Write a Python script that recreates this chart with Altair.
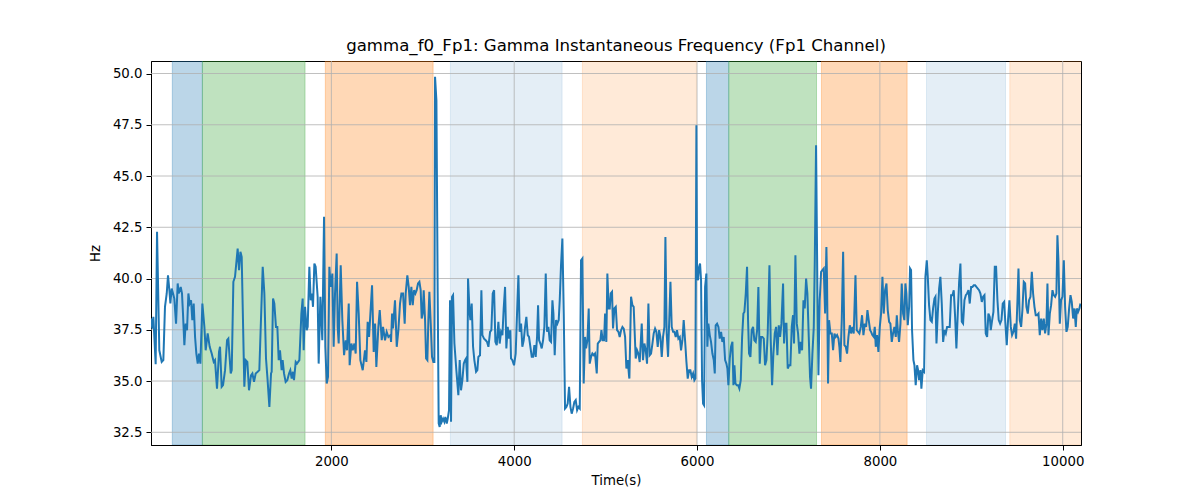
import altair as alt
import pandas as pd

# ---- line data: (time in s, gamma instantaneous frequency in Hz) ----
seg_a = [(27,38.05),(42,37.56),(53,38.13),(78,35.82),(93,42.28),(118,36.50),(144,35.93),(162,36.02),(180,38.62),(199,39.27),(213,40.16),(228,39.43),(239,38.78),(253,39.51),(268,39.27),(282,39.02),(301,37.80),(319,39.76),(330,39.27),(352,39.59),(366,39.27),(377,38.29),(392,36.75),(406,37.80),(421,37.48),(436,39.27),(450,38.78),(465,38.94),(479,37.97),(494,38.78),(509,37.15),(523,36.34),(538,35.85),(552,36.34),(567,35.85),(589,38.78),(611,37.64),(625,36.50),(647,37.32),(669,36.67),(691,36.34),(713,35.93),(727,36.02),(749,34.63),(771,36.42),(782,36.67),(800,34.72),(815,34.80),(837,35.53),(859,36.99),(873,37.07),(899,35.37),(910,35.53),(928,39.84),(946,40.08),(975,41.46),(990,40.41),(1005,41.30),(1019,41.06),(1048,34.72),(1063,36.02),(1081,35.93),(1099,34.55),(1121,35.28),(1136,35.37),(1154,34.96),(1172,35.37),(1194,35.45),(1212,35.53),(1249,40.57),(1267,39.27),(1285,36.10),(1300,35.20),(1322,33.74)]

seg_b = [(1340,35.37),(1347,35.45),(1362,39.02),(1376,38.78),(1394,37.64),(1409,37.64),(1424,36.02),(1438,36.50),(1456,35.53),(1467,36.02),(1482,35.37),(1500,34.96),(1518,35.04),(1537,35.37),(1551,35.53),(1566,35.12),(1580,35.45),(1591,35.04),(1610,35.93),(1624,35.85),(1650,36.02),(1672,38.29),(1686,39.02),(1697,36.50),(1712,38.62),(1730,37.48),(1741,37.64),(1759,40.57),(1774,38.94),(1788,39.27),(1799,38.62),(1814,40.73),(1828,40.57),(1850,39.11),(1861,35.85),(1880,39.11),(1901,36.99),(1920,43.01),(1934,36.67),(1949,34.88),(1963,35.20),(1978,40.57),(1993,39.59),(2011,40.24),(2025,36.67),(2040,39.27),(2058,41.22),(2069,37.64),(2080,36.83),(2102,40.65),(2120,37.97),(2139,36.26),(2157,36.99),(2171,36.50),(2190,38.78),(2200,35.77),(2219,36.83),(2233,36.50),(2252,36.83),(2266,36.34),(2281,39.84),(2299,38.29),(2317,36.02),(2343,35.53),(2368,36.50),(2383,35.93),(2397,37.89),(2412,37.15),(2445,39.67),(2463,36.42),(2478,37.80),(2492,35.69),(2514,37.64),(2529,38.46),(2551,36.99),(2565,37.64),(2587,36.99),(2605,37.40),(2624,37.15),(2646,37.24)]

seg_c = [(2653,36.91),(2664,38.29),(2674,37.56),(2696,38.94),(2715,36.67),(2733,37.48),(2751,38.78),(2766,39.27),(2784,39.27),(2802,37.80),(2813,39.27),(2831,40.16),(2846,39.59),(2860,38.70),(2875,39.59),(2890,38.70),(2904,39.43),(2919,39.27),(2933,39.43),(2948,39.76),(2963,39.84),(2977,39.43),(2988,38.05),(2999,38.29),(3010,39.43),(3025,37.97),(3036,36.10),(3050,36.02),(3061,37.97),(3072,39.35),(3087,37.80),(3101,36.18),(3116,35.93),(3127,35.93),(3134,49.84),(3149,48.70),(3163,39.27),(3174,32.93),(3185,32.76),(3196,33.33),(3207,33.01),(3222,33.17),(3236,33.01),(3247,33.25),(3262,32.93),(3273,33.17),(3287,33.58),(3298,38.94),(3309,33.01),(3320,39.11),(3331,39.19),(3346,36.83),(3367,35.53),(3389,34.31),(3404,36.02),(3418,34.55),(3433,35.04),(3448,35.85),(3462,36.02),(3473,36.10),(3488,34.96),(3495,40.00),(3513,38.29),(3521,37.97),(3535,38.78),(3550,36.67),(3564,36.02),(3583,35.45),(3597,35.53),(3608,36.18),(3626,36.26),(3641,39.43),(3652,37.24),(3670,37.07),(3688,36.99),(3703,36.91),(3718,36.67),(3736,37.40),(3750,37.48),(3765,39.27),(3780,39.43),(3794,36.91),(3809,36.75),(3827,37.89),(3841,36.83),(3856,37.40),(3871,37.24),(3885,38.54),(3900,39.59),(3914,36.59),(3929,37.64),(3944,37.07),(3958,37.48)]

seg_d = [(3965,36.10),(3980,36.02),(3998,35.77),(4016,36.34),(4031,38.29),(4046,40.16),(4060,37.40),(4075,37.80),(4089,36.67),(4104,36.99),(4119,37.64),(4133,38.13),(4148,37.24),(4162,37.15),(4177,36.67),(4192,36.18),(4206,36.18),(4221,36.75),(4235,36.18),(4250,37.15),(4261,38.70),(4272,36.99),(4286,36.83),(4301,36.59),(4316,36.99),(4330,37.64),(4345,40.24),(4359,37.40),(4374,37.64),(4388,36.99),(4403,36.91),(4418,38.94),(4429,38.29),(4443,36.26),(4458,37.97),(4472,37.80),(4487,37.97),(4498,38.94),(4512,40.65),(4527,41.95),(4542,38.29),(4556,33.66),(4571,33.74),(4585,33.90),(4600,34.72),(4615,33.74),(4629,33.41),(4644,33.66),(4658,33.98),(4673,34.07),(4688,33.58),(4702,33.74),(4717,33.66),(4731,40.89),(4746,40.98),(4760,34.88),(4775,37.15),(4786,36.59),(4801,36.99),(4815,38.54),(4826,35.85),(4841,36.18),(4855,36.34),(4870,36.26),(4884,36.34),(4903,35.37),(4914,36.83),(4928,36.91),(4943,36.99),(4954,37.48),(4968,36.99),(4983,36.99),(4994,38.29),(5008,36.91),(5019,40.24),(5034,38.54),(5045,38.54),(5056,39.27),(5070,39.35),(5081,37.56),(5096,38.54),(5111,38.62),(5125,37.48),(5140,37.40),(5154,37.15),(5169,37.48),(5184,37.64),(5198,37.56),(5213,37.15),(5227,35.61),(5242,36.02),(5257,35.20)]

seg_e = [(5260,35.12),(5278,39.11),(5293,38.70),(5307,38.62),(5329,36.10),(5344,36.50),(5358,36.34),(5373,35.93),(5395,37.80),(5409,36.02),(5424,36.83),(5439,36.50),(5453,35.85),(5468,38.78),(5482,36.26),(5497,36.34),(5512,36.83),(5526,37.32),(5541,37.56),(5555,37.40),(5570,36.67),(5585,37.48),(5599,37.15),(5614,36.18),(5628,37.15),(5643,37.64),(5654,42.03),(5668,37.32),(5683,36.18),(5698,38.29),(5709,39.84),(5723,37.64),(5738,37.40),(5752,37.40),(5767,37.15),(5781,37.48),(5796,37.07),(5811,37.15),(5825,36.50),(5840,36.99),(5854,37.97),(5869,36.99),(5884,35.93),(5898,35.12),(5913,35.53),(5927,35.53),(5942,35.20),(5957,35.37),(5971,35.04),(5982,35.12),(5993,47.48),(6000,40.08),(6011,39.92),(6022,40.57),(6033,40.73),(6044,39.92),(6055,35.04),(6066,33.90),(6077,33.82),(6088,39.59),(6102,40.24),(6113,36.67),(6124,37.80),(6139,37.24),(6153,36.91),(6168,36.34),(6183,36.02),(6194,35.37),(6204,37.72),(6219,37.80),(6234,37.64),(6248,37.07),(6263,37.40),(6277,36.91),(6292,37.15),(6307,36.02),(6321,35.85),(6332,35.61),(6343,34.80),(6358,36.10),(6372,36.67),(6387,36.91),(6398,34.80),(6409,35.77),(6420,34.88),(6434,34.80),(6449,34.80),(6463,34.63),(6478,35.04),(6493,37.15),(6507,38.29),(6518,38.37),(6533,39.27),(6547,40.57),(6558,37.97),(6569,36.34),(6584,36.18)]

seg_f = [(6598,37.48),(6613,37.64),(6627,36.99),(6642,36.91),(6657,37.48),(6671,39.59),(6686,35.85),(6700,37.15),(6715,37.15),(6730,37.07),(6744,35.77),(6759,36.02),(6773,37.32),(6792,40.65),(6806,36.99),(6821,34.80),(6835,36.34),(6850,37.32),(6865,37.64),(6879,36.26),(6894,37.72),(6908,37.15),(6923,37.80),(6941,39.76),(6952,36.83),(6963,37.80),(6978,37.80),(6992,35.61),(7007,35.77),(7021,35.77),(7036,37.64),(7050,38.21),(7061,36.83),(7076,41.14),(7091,37.80),(7105,37.32),(7120,36.34),(7134,36.91),(7149,36.50),(7164,38.94),(7178,38.54),(7193,40.00),(7207,39.27),(7222,37.15),(7236,35.20),(7247,34.63),(7262,36.34),(7277,37.64),(7288,40.89),(7302,46.50),(7317,39.27),(7328,35.28),(7342,38.94),(7357,40.33),(7371,40.41),(7386,40.49),(7401,38.29),(7415,41.54),(7422,39.92),(7433,34.88),(7444,37.97),(7459,37.32),(7474,37.32),(7488,36.50),(7503,37.32),(7517,37.15),(7532,37.24),(7547,37.07),(7557,36.67),(7568,35.93),(7583,37.97),(7598,41.30),(7612,36.75),(7627,36.67),(7641,36.34),(7656,37.15),(7671,37.72),(7685,37.32),(7700,37.64),(7714,37.32),(7733,40.16),(7747,37.48),(7762,37.40),(7776,37.32),(7791,37.64),(7805,38.21),(7820,37.24),(7835,37.80),(7849,37.64),(7864,38.46),(7878,37.97),(7893,37.48)]

seg_g = [(7904,37.40),(7918,37.24),(7933,37.15),(7944,37.64),(7955,36.67),(7969,37.24),(7984,36.42),(7999,37.64),(8013,38.29),(8028,40.08),(8042,38.29),(8057,39.43),(8072,39.76),(8086,38.46),(8101,37.89),(8115,37.80),(8130,36.91),(8144,37.32),(8159,37.64),(8174,37.15),(8185,38.21),(8196,37.48),(8210,36.91),(8225,37.80),(8239,39.76),(8254,38.29),(8268,37.97),(8279,39.76),(8290,39.27),(8305,37.72),(8320,38.62),(8330,40.49),(8341,40.41),(8352,37.48),(8367,36.02),(8378,35.77),(8392,34.80),(8407,35.77),(8418,35.53),(8429,35.04),(8444,35.53),(8454,34.63),(8469,35.53),(8484,35.45),(8498,40.08),(8513,40.89),(8524,40.08),(8538,38.70),(8553,37.97),(8568,37.89),(8582,38.54),(8597,39.02),(8608,39.11),(8619,36.83),(8633,38.29),(8648,39.51),(8662,40.08),(8677,38.78),(8692,36.91),(8706,37.48),(8721,37.32),(8735,37.64),(8750,37.64),(8764,37.64),(8779,39.19),(8794,39.19),(8808,39.43),(8823,38.13),(8837,36.59),(8852,38.29),(8867,39.84),(8881,40.73),(8896,37.89),(8910,37.80),(8925,38.94),(8940,39.19),(8954,39.27),(8969,39.43),(8983,38.78),(8998,39.59),(9012,39.59),(9027,39.67),(9042,39.67),(9056,39.59),(9071,39.51),(9085,39.43),(9100,39.27),(9115,38.86),(9129,39.11),(9144,39.19),(9158,37.32),(9173,37.15),(9187,38.29),(9202,38.13)]

seg_h = [(9213,37.48),(9228,37.97),(9242,38.37),(9257,40.57),(9271,40.57),(9286,38.94),(9300,37.97),(9315,37.80),(9330,37.97),(9344,38.78),(9359,38.86),(9373,37.80),(9388,36.75),(9403,38.05),(9417,38.94),(9432,37.64),(9446,37.24),(9461,37.40),(9476,37.80),(9490,37.07),(9505,38.94),(9516,40.49),(9530,37.97),(9545,37.64),(9559,38.46),(9574,39.84),(9589,39.76),(9603,38.62),(9618,38.29),(9632,38.94),(9647,39.11),(9662,40.33),(9676,39.27),(9691,38.62),(9705,38.21),(9720,38.21),(9735,38.29),(9749,37.24),(9764,38.05),(9778,37.48),(9793,38.05),(9807,37.32),(9822,37.80),(9833,39.76),(9844,37.24),(9859,38.29),(9873,38.70),(9888,39.43),(9902,39.19),(9917,39.11),(9931,39.27),(9942,42.11),(9953,40.89),(9968,37.80),(9982,38.94),(9997,39.11),(10012,40.89),(10026,38.62),(10041,37.40),(10055,37.64),(10070,38.54),(10085,39.19),(10099,38.86),(10114,38.05),(10128,38.54),(10143,37.64),(10154,38.54),(10168,38.37),(10183,38.54),(10194,38.78)]

# ---- shaded epochs ----
span_start = [260, 589, 1934, 3302, 4746, 6103, 6347, 7361, 8510, 9421]
span_end = [589, 1712, 3113, 4524, 5993, 6347, 7307, 8298, 9374, 10210]
span_color = ["#1f77b4", "#2ca02c", "#ff7f0e", "#1f77b4", "#ff7f0e",
              "#1f77b4", "#2ca02c", "#ff7f0e", "#1f77b4", "#ff7f0e"]
span_alpha = [0.3, 0.3, 0.3, 0.12, 0.16, 0.3, 0.3, 0.3, 0.12, 0.16]

x_ticks = [2000, 4000, 6000, 8000, 10000]
y_ticks = [32.5, 35.0, 37.5, 40.0, 42.5, 45.0, 47.5, 50.0]
x_domain = [27, 10200]
y_domain = [31.88, 50.61]

points = seg_a + seg_b + seg_c + seg_d + seg_e + seg_f + seg_g + seg_h
line_df = pd.DataFrame({"t": [p[0] for p in points], "hz": [p[1] for p in points]})
span_df = pd.DataFrame({"start": span_start, "end": span_end,
                        "color": span_color, "alpha": span_alpha})
xt_df = pd.DataFrame({"t": x_ticks})
yt_df = pd.DataFrame({"hz": y_ticks})

FONT = "DejaVu Sans"
xscale = alt.Scale(domain=x_domain, nice=False, zero=False)
yscale = alt.Scale(domain=y_domain, nice=False, zero=False)

x_axis = alt.Axis(values=x_ticks, format="d", title="Time(s)", grid=False,
                  tickSize=5, labelPadding=4, titlePadding=6)
y_axis = alt.Axis(values=y_ticks, format=".1f", title="Hz", grid=False,
                  tickSize=5, labelPadding=4, titlePadding=10)

spans = alt.Chart(span_df).mark_rect(strokeWidth=1, clip=True).encode(
    x=alt.X("start:Q", scale=xscale, axis=x_axis),
    x2="end:Q",
    fill=alt.Fill("color:N", scale=None),
    stroke=alt.Stroke("color:N", scale=None),
    fillOpacity=alt.FillOpacity("alpha:Q", scale=None),
    strokeOpacity=alt.StrokeOpacity("alpha:Q", scale=None),
)

vgrid = alt.Chart(xt_df).mark_rule(color="#b0b0b0", strokeWidth=0.8).encode(
    x=alt.X("t:Q", scale=xscale, axis=x_axis)
)
hgrid = alt.Chart(yt_df).mark_rule(color="#b0b0b0", strokeWidth=0.8).encode(
    y=alt.Y("hz:Q", scale=yscale, axis=y_axis)
)

line = alt.Chart(line_df).mark_line(color="#1f77b4", strokeWidth=2, clip=True).encode(
    x=alt.X("t:Q", scale=xscale, axis=x_axis),
    y=alt.Y("hz:Q", scale=yscale, axis=y_axis),
)

chart = alt.layer(spans, vgrid, hgrid, line).properties(
    width=930,
    height=384,
    title=alt.TitleParams("gamma_f0_Fp1: Gamma Instantaneous Frequency (Fp1 Channel)",
                          fontSize=16.6, fontWeight="normal", font=FONT, color="black",
                          anchor="middle", offset=6),
    padding={"left": 143, "top": 53, "right": 110, "bottom": 45},
    autosize=alt.AutoSizeParams(type="none"),
).configure_view(
    stroke="black", strokeWidth=1
).configure_axis(
    labelFont=FONT, titleFont=FONT, labelFontSize=13.3, titleFontSize=13.3,
    titleFontWeight="normal", labelColor="black", titleColor="black",
    domainColor="black", tickColor="black", domainWidth=1, tickWidth=1,
)

chart.save("out.html", embed_options={"renderer": "svg", "actions": False})
